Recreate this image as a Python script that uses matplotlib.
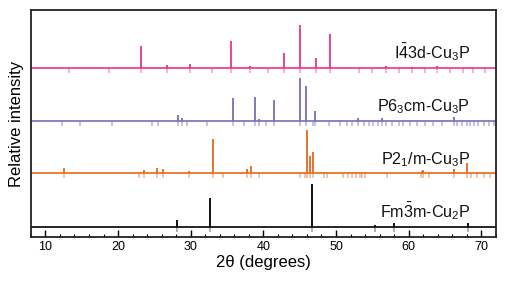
import numpy as np
import matplotlib
matplotlib.use("Agg")
import matplotlib.pyplot as plt
from matplotlib.ticker import MultipleLocator

plt.rcParams['font.family'] = ['Liberation Sans', 'DejaVu Sans']
plt.rcParams['mathtext.fontset'] = 'custom'
plt.rcParams['mathtext.rm'] = 'Liberation Sans'
plt.rcParams['mathtext.it'] = 'Liberation Sans:italic'

# --- DATA (2theta in degrees, intensity in % of strongest peak) ---
pink_pos = [23.1, 26.75, 29.95, 35.6, 38.2, 42.9, 45.05, 47.2, 49.2, 56.9, 60.5, 63.9]
pink_int = [51, 7, 10, 63, 5, 36, 100, 23, 79, 5, 3, 5]
pink_ref = [13.3, 18.8, 23.1, 26.75, 29.95, 32.9, 35.6, 38.2, 40.6, 42.9, 45.05, 47.2,
            49.2, 53.1, 55.0, 56.9, 58.6, 60.5, 62.2, 63.9, 65.7, 67.5, 68.9, 70.5]

purple_pos = [28.3, 28.8, 35.8, 38.9, 39.45, 41.5, 45.0, 45.9, 47.1, 53.0, 56.3, 66.2]
purple_int = [13, 7, 52, 56, 5, 48, 100, 81, 23, 7, 7, 9]
purple_ref = [12.3, 14.7, 19.2, 24.7, 25.5, 28.3, 28.8, 29.5, 32.2, 35.8, 37.4, 38.9,
              39.45, 40.4, 41.5, 45.0, 45.9, 46.8, 47.1, 49.0, 50.6, 51.5, 52.2, 53.0,
              53.8, 54.6, 55.1, 55.8, 56.3, 56.9, 57.7, 58.6, 59.2, 60.2, 61.2, 62.3,
              63.4, 64.6, 66.2, 66.7, 67.3, 68.0, 68.5, 69.0, 69.6, 70.4, 71.1, 71.7]

orange_pos = [12.6, 23.6, 25.3, 26.2, 29.7, 33.1, 37.75, 38.3, 46.0, 46.4, 46.8,
              61.8, 62.0, 66.2, 68.0]
orange_int = [12, 7, 12, 10, 5, 79, 11, 17, 100, 40, 50, 5, 7, 10, 24]
orange_ref = [12.6, 22.9, 23.6, 25.3, 26.2, 29.7, 33.1, 34.4, 37.75, 38.3, 39.4,
              45.1, 45.7, 46.0, 46.4, 46.8, 48.3, 48.8, 51.0, 51.6, 52.2, 52.7,
              53.3, 53.6, 54.0, 57.0, 61.7, 62.0, 62.8, 66.2, 68.0, 68.6, 69.4,
              70.4, 71.2]

black_pos = [28.1, 32.6, 46.7, 55.4, 58.0, 68.1]
black_int = [16, 67, 100, 5, 9, 9]
black_ref = [28.1, 32.6, 46.7, 55.4, 58.0, 68.1]

labels = [r'I$\bar{4}$3d-Cu$_3$P', r'P6$_3$cm-Cu$_3$P',
          r'P2$_1$/m-Cu$_3$P', r'Fm$\bar{3}$m-Cu$_2$P']

# --- STYLE ---
series = [
    (pink_pos, pink_int, pink_ref, '#E8348A', '#F29DC4', 169.0),
    (purple_pos, purple_int, purple_ref, '#7470B5', '#B7B3DA', 116.3),
    (orange_pos, orange_int, orange_ref, '#E2691C', '#F1B38A', 63.7),
    (black_pos, black_int, black_ref, '#000000', '#9A9A9A', 10.3),
]
scale = 0.43  # vertical units per % intensity
tick_len = 5.0

fig = plt.figure(figsize=(5.06, 2.87), dpi=100)
ax = fig.add_axes([0.061, 0.174, 0.919, 0.791])
ax.set_xlim(8, 72)
ax.set_ylim(0, 227)

for (pos, inten, ref, col, light, base), lab in zip(series, labels):
    ax.vlines(ref, base - tick_len, base, color=light, lw=1.1, zorder=1)
    ax.axhline(base, color=col, lw=1.2, zorder=2)
    ax.vlines(pos, base, base + np.array(inten) * scale, color=col, lw=1.3, zorder=3)
    ax.text(68.5, base + 9.5, lab, ha='right', va='baseline', fontsize=11.6, color='#111111')

ax.set_yticks([])
ax.xaxis.set_major_locator(MultipleLocator(10))
ax.xaxis.set_minor_locator(MultipleLocator(2))
ax.tick_params(axis='x', which='major', direction='in', length=5, width=1.0,
               labelsize=9, pad=3)
ax.tick_params(axis='x', which='minor', direction='in', length=2.2, width=0.8)
for sp in ax.spines.values():
    sp.set_linewidth(1.3)
    sp.set_color('#222222')

ax.set_xlabel('2θ (degrees)', fontsize=12, labelpad=1)
ax.set_ylabel('Relative intensity', fontsize=12, labelpad=5)

fig.savefig('out.png', dpi=100)
